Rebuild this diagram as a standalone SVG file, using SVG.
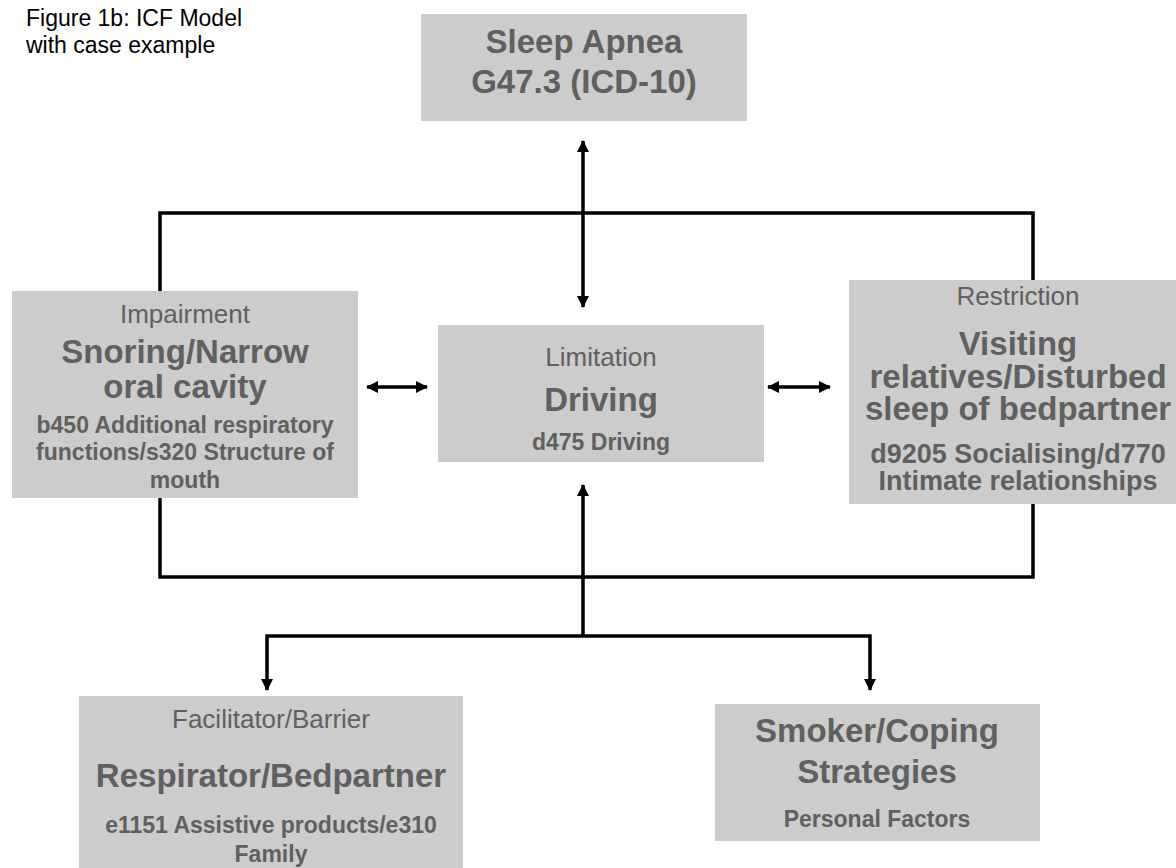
<svg xmlns="http://www.w3.org/2000/svg" width="1176" height="868" viewBox="0 0 1176 868">
  <style>
    .box { fill: #cccccc; }
    .t { font-family: "Liberation Sans", Arial, sans-serif; fill: #606060; text-anchor: middle; }
    .cat { font-size: 26px; }
    .main { font-size: 33px; font-weight: bold; }
    .sub { font-size: 23px; font-weight: bold; }
    .sub27 { font-size: 27px; font-weight: bold; }
    .cap { font-family: "Liberation Sans", Arial, sans-serif; font-size: 23px; fill: #000000; }
    .ln { fill: none; stroke: #000000; stroke-width: 3.5; }
  </style>
  <defs>
    <marker id="head" markerUnits="userSpaceOnUse" markerWidth="12" markerHeight="12" refX="11" refY="6" orient="auto-start-reverse" viewBox="0 0 12 12">
      <path d="M0,0 L12,6 L0,12 z" fill="#000000"/>
    </marker>
  </defs>

  <rect width="1176" height="868" fill="#ffffff"/>

  <text class="cap" x="26" y="26">Figure 1b: ICF Model</text>
  <text class="cap" x="26" y="53">with case example</text>

  <!-- connectors -->
  <g id="connectors">
    <path class="ln" d="M160,291 V213 H1033 V280"/>
    <path class="ln" d="M160,498 V577 H1033 V504"/>
    <line class="ln" x1="583" y1="141" x2="583" y2="307" marker-start="url(#head)" marker-end="url(#head)"/>
    <line class="ln" x1="367" y1="387" x2="427" y2="387" marker-start="url(#head)" marker-end="url(#head)"/>
    <line class="ln" x1="768" y1="387" x2="830" y2="387" marker-start="url(#head)" marker-end="url(#head)"/>
    <line class="ln" x1="583" y1="636" x2="583" y2="485" marker-end="url(#head)"/>
    <path class="ln" d="M267,690 V636 H870 V690" marker-start="url(#head)" marker-end="url(#head)"/>
  </g>

  <g id="health-condition">
    <rect class="box" x="421" y="14" width="326" height="107"/>
    <text class="t main" x="584" y="53">Sleep Apnea</text>
    <text class="t main" x="584" y="93">G47.3 (ICD-10)</text>
  </g>

  <g id="impairment">
    <rect class="box" x="12" y="291" width="346" height="207"/>
    <text class="t cat" x="185" y="323">Impairment</text>
    <text class="t main" x="185" y="363">Snoring/Narrow</text>
    <text class="t main" x="185" y="398">oral cavity</text>
    <text class="t sub" x="185" y="433">b450 Additional respiratory</text>
    <text class="t sub" x="185" y="460">functions/s320 Structure of</text>
    <text class="t sub" x="185" y="488">mouth</text>
  </g>

  <g id="limitation">
    <rect class="box" x="438" y="325" width="326" height="137"/>
    <text class="t cat" x="601" y="366">Limitation</text>
    <text class="t main" x="601" y="411">Driving</text>
    <text class="t sub" x="601" y="450">d475 Driving</text>
  </g>

  <g id="restriction">
    <rect class="box" x="849" y="280" width="338" height="224"/>
    <text class="t cat" x="1018" y="305">Restriction</text>
    <text class="t main" x="1018" y="355">Visiting</text>
    <text class="t main" x="1018" y="388">relatives/Disturbed</text>
    <text class="t main" x="1018" y="420">sleep of bedpartner</text>
    <text class="t sub27" x="1018" y="463">d9205 Socialising/d770</text>
    <text class="t sub27" x="1018" y="490">Intimate relationships</text>
  </g>

  <g id="environmental-factors">
    <rect class="box" x="79" y="696" width="384" height="180"/>
    <text class="t cat" x="271" y="728">Facilitator/Barrier</text>
    <text class="t main" x="271" y="787">Respirator/Bedpartner</text>
    <text class="t sub" x="271" y="833">e1151 Assistive products/e310</text>
    <text class="t sub" x="271" y="862">Family</text>
  </g>

  <g id="personal-factors">
    <rect class="box" x="715" y="704" width="325" height="137"/>
    <text class="t main" x="877" y="742">Smoker/Coping</text>
    <text class="t main" x="877" y="783">Strategies</text>
    <text class="t sub" x="877" y="827">Personal Factors</text>
  </g>
</svg>
